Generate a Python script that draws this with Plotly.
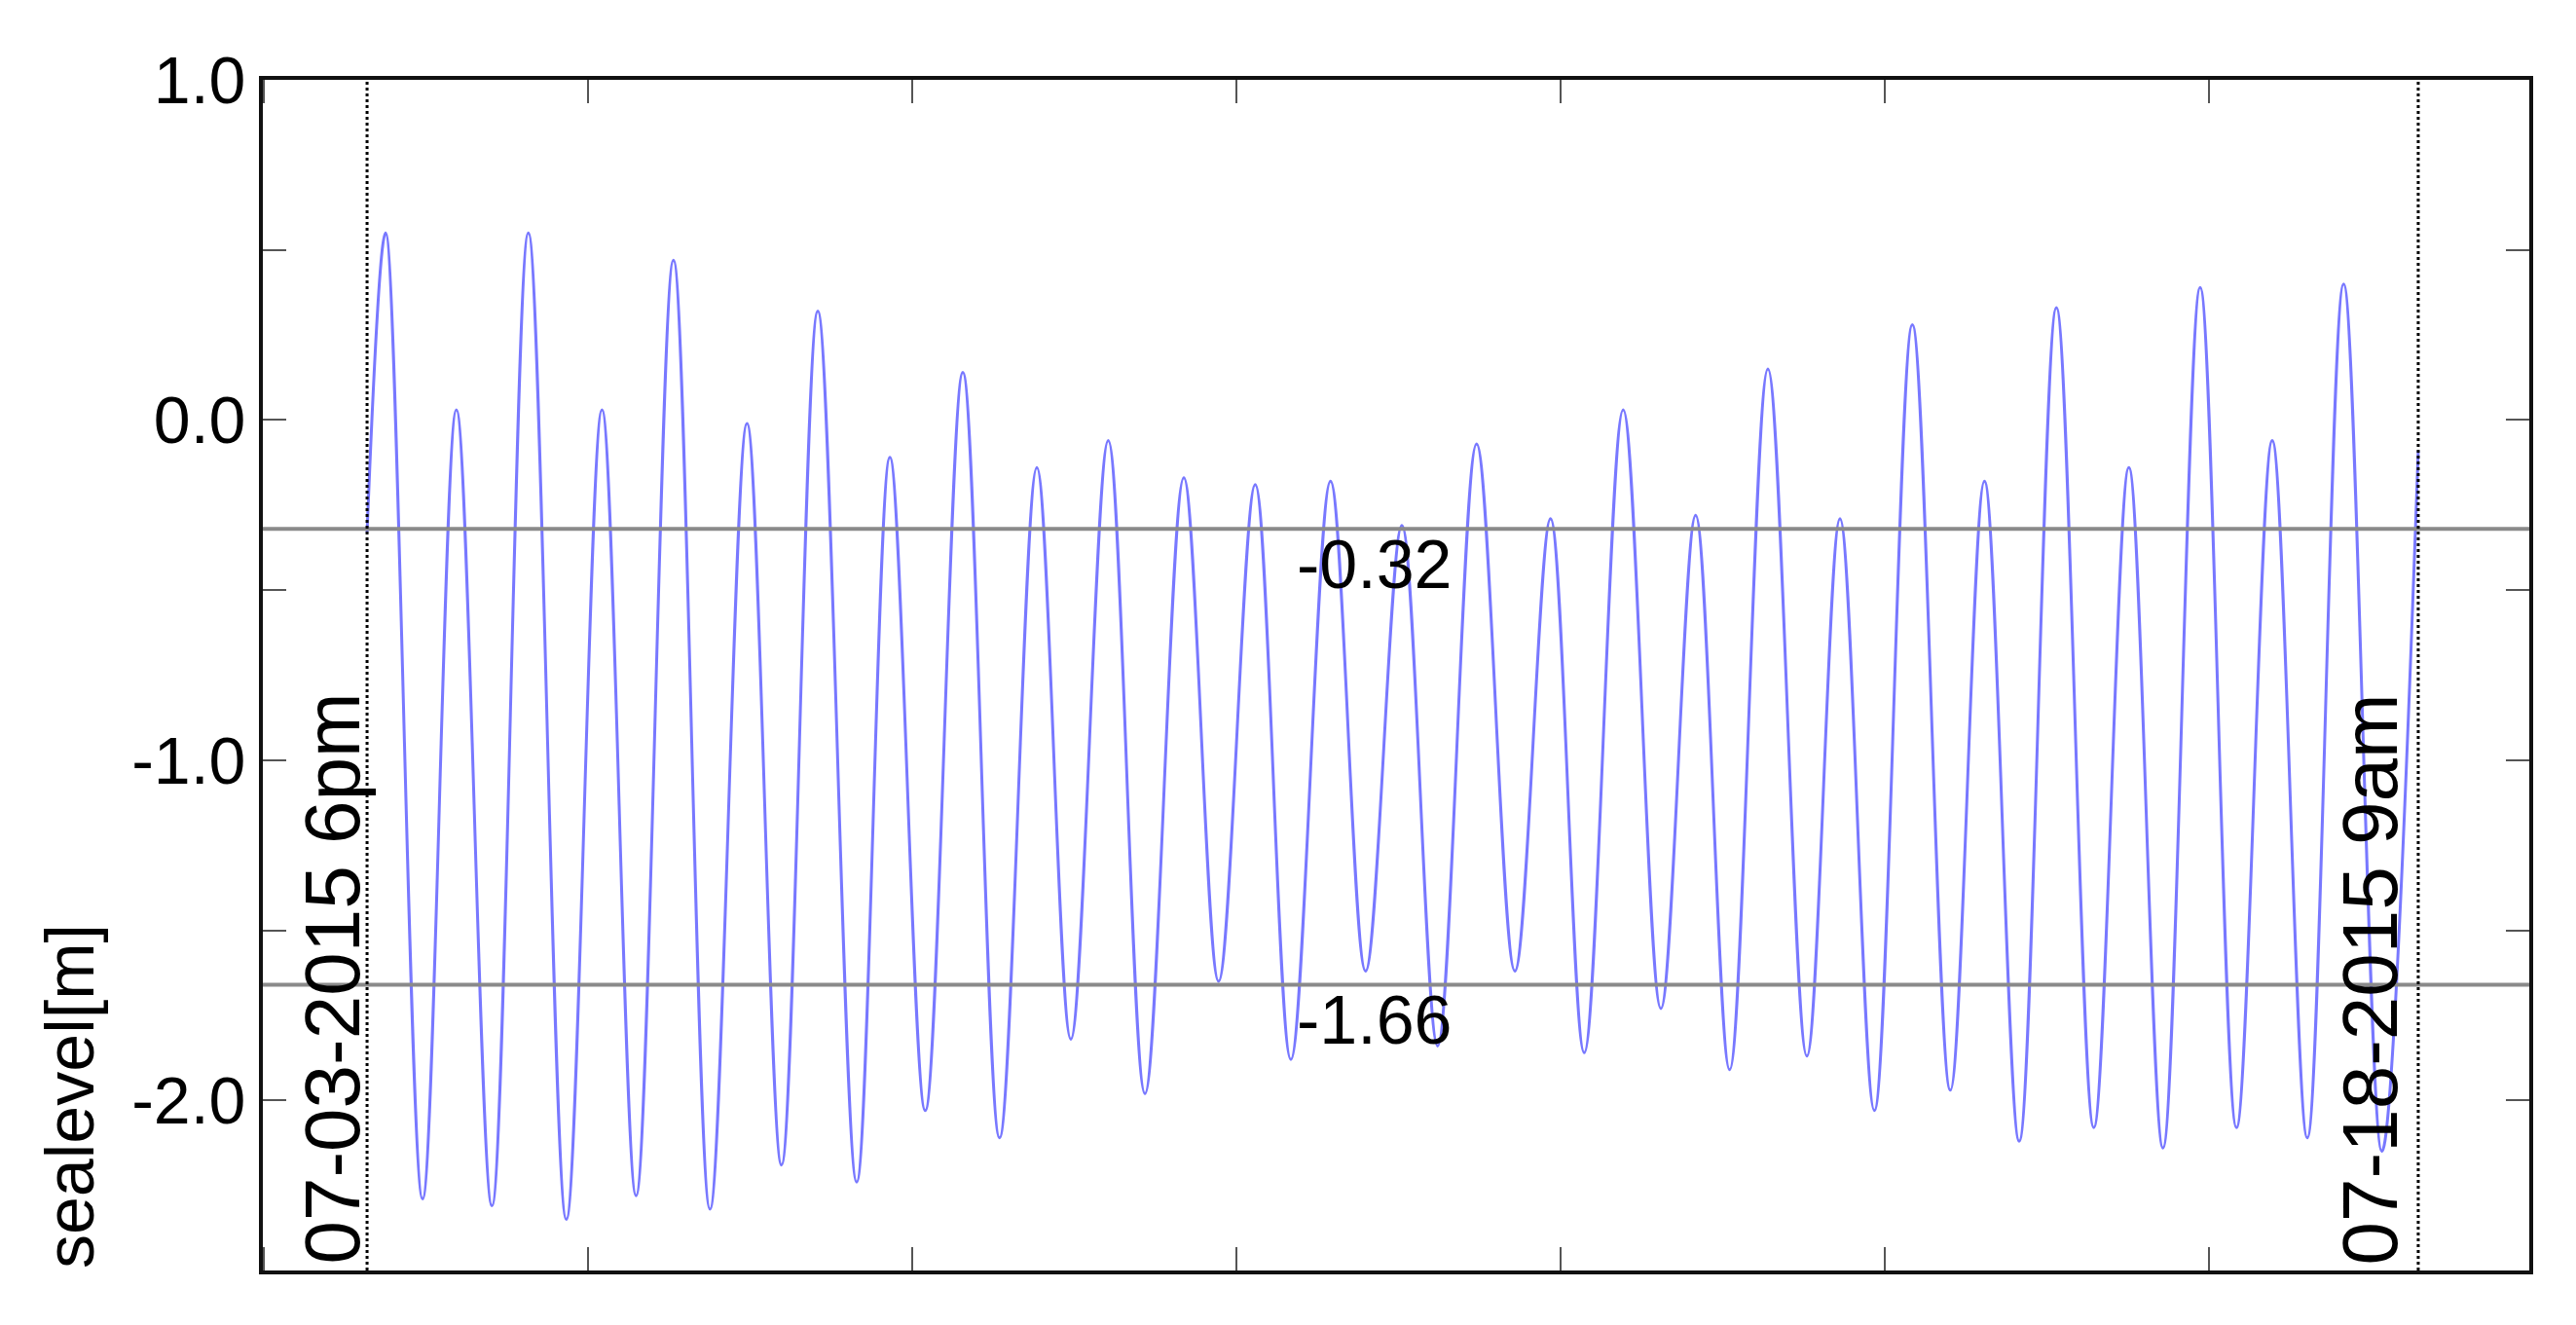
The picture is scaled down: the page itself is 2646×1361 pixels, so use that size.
import plotly.graph_objects as go

# ---------------------------------------------------------------------
# Data: tide extrema (time, sea level in m)
# ---------------------------------------------------------------------
times = [
    "2015-07-03 18:00", "2015-07-03 21:10", "2015-07-04 03:30", "2015-07-04 09:17",
    "2015-07-04 15:22", "2015-07-04 21:36", "2015-07-05 04:06", "2015-07-05 10:12",
    "2015-07-05 16:02", "2015-07-05 22:26", "2015-07-06 04:41", "2015-07-06 11:01",
    "2015-07-06 16:55", "2015-07-06 23:08", "2015-07-07 05:47", "2015-07-07 11:28",
    "2015-07-07 17:31", "2015-07-07 23:57", "2015-07-08 06:14", "2015-07-08 12:37",
    "2015-07-08 18:26", "2015-07-09 00:50", "2015-07-09 07:07", "2015-07-09 13:46",
    "2015-07-09 19:43", "2015-07-10 01:59", "2015-07-10 08:05", "2015-07-10 14:52",
    "2015-07-10 20:52", "2015-07-11 03:05", "2015-07-11 09:12", "2015-07-11 15:52",
    "2015-07-11 22:25", "2015-07-12 04:31", "2015-07-12 10:17", "2015-07-12 16:57",
    "2015-07-12 23:24", "2015-07-13 05:21", "2015-07-13 11:10", "2015-07-13 17:43",
    "2015-07-14 00:23", "2015-07-14 06:03", "2015-07-14 11:56", "2015-07-14 18:26",
    "2015-07-15 00:56", "2015-07-15 06:46", "2015-07-15 12:43", "2015-07-15 19:05",
    "2015-07-16 01:29", "2015-07-16 07:29", "2015-07-16 13:19", "2015-07-16 19:41",
    "2015-07-17 01:54", "2015-07-17 08:01", "2015-07-17 14:01", "2015-07-17 20:14",
    "2015-07-18 02:47", "2015-07-18 09:00",
]
sealevel = [
    -0.33, 0.55, -2.29, 0.03,
    -2.31, 0.55, -2.35, 0.03,
    -2.28, 0.47, -2.32, -0.01,
    -2.19, 0.32, -2.24, -0.11,
    -2.03, 0.14, -2.11, -0.14,
    -1.82, -0.06, -1.98, -0.17,
    -1.65, -0.19, -1.88, -0.18,
    -1.62, -0.31, -1.84, -0.07,
    -1.62, -0.29, -1.86, 0.03,
    -1.73, -0.28, -1.91, 0.15,
    -1.87, -0.29, -2.03, 0.28,
    -1.97, -0.18, -2.12, 0.33,
    -2.08, -0.14, -2.14, 0.39,
    -2.08, -0.06, -2.11, 0.40,
    -2.15, -0.09,
]

mean_high = -0.32
mean_low = -1.66
period_start = "2015-07-03 18:00"
period_end = "2015-07-18 09:00"
start_label = "07-03-2015 6pm"
end_label = "07-18-2015 9am"

y_ticks = [1.0, 0.5, 0.0, -0.5, -1.0, -1.5, -2.0, -2.5]
y_ticktext = ["1.0", "", "0.0", "", "-1.0", "", "-2.0", ""]

FONT = "Liberation Sans, Arial, sans-serif"

# ---------------------------------------------------------------------
# Figure
# ---------------------------------------------------------------------
fig = go.Figure()
fig.add_trace(go.Scatter(
    x=times, y=sealevel, mode="lines",
    line=dict(color="rgba(30,30,255,0.6)", width=3, shape="spline", smoothing=1.0),
    hoverinfo="skip", showlegend=False,
))

# mean high / low water lines
for lvl in (mean_high, mean_low):
    fig.add_hline(y=lvl, line_color="#8a8a8a", line_width=4, layer="above")
    fig.add_annotation(
        x="2015-07-10 08:45", y=lvl, xref="x", yref="y",
        text=f"{lvl:.2f}", showarrow=False, xanchor="left", yanchor="top",
        yshift=4, font=dict(size=70, color="black", family=FONT),
    )

# period markers
for t, label, shift in ((period_start, start_label, -36), (period_end, end_label, -49)):
    fig.add_vline(x=t, line_dash="dot", line_color="black", line_width=3, layer="above")
    fig.add_annotation(
        x=t, y=-2.5, xref="x", yref="y", text=label, textangle=-90,
        showarrow=False, xanchor="center", yanchor="bottom", xshift=shift, yshift=4,
        font=dict(size=80, color="black", family=FONT),
    )

# y axis title, sitting at the bottom of the axis
fig.add_annotation(
    x=-0.085, y=0, xref="paper", yref="paper", text="sealevel[m]", textangle=-90,
    showarrow=False, xanchor="center", yanchor="bottom",
    font=dict(size=70, color="black", family=FONT),
)

fig.update_xaxes(
    type="date", range=["2015-07-03 00:10", "2015-07-19 04:00"],
    tickmode="linear", tick0="2015-07-05 07:49", dtick=55.47 * 3600 * 1000,
    ticks="inside", ticklen=24, tickwidth=2, tickcolor="#555",
    showticklabels=False, showgrid=False, zeroline=False,
    showline=True, linewidth=4, linecolor="#111", mirror="allticks",
)
fig.update_yaxes(
    range=[-2.5, 1.0], tickmode="array", tickvals=y_ticks, ticktext=y_ticktext,
    ticks="inside", ticklen=24, tickwidth=2, tickcolor="#555",
    tickfont=dict(size=68, color="black", family=FONT),
    showgrid=False, zeroline=False,
    showline=True, linewidth=4, linecolor="#111", mirror="allticks",
)
# the page body adds an 8px offset, so the figure is 16px smaller each way
fig.update_layout(
    width=2630, height=1345,
    margin=dict(l=262, r=40, t=74, b=48),
    plot_bgcolor="white", paper_bgcolor="white",
    font=dict(family=FONT),
)

fig.write_html("out.html")
